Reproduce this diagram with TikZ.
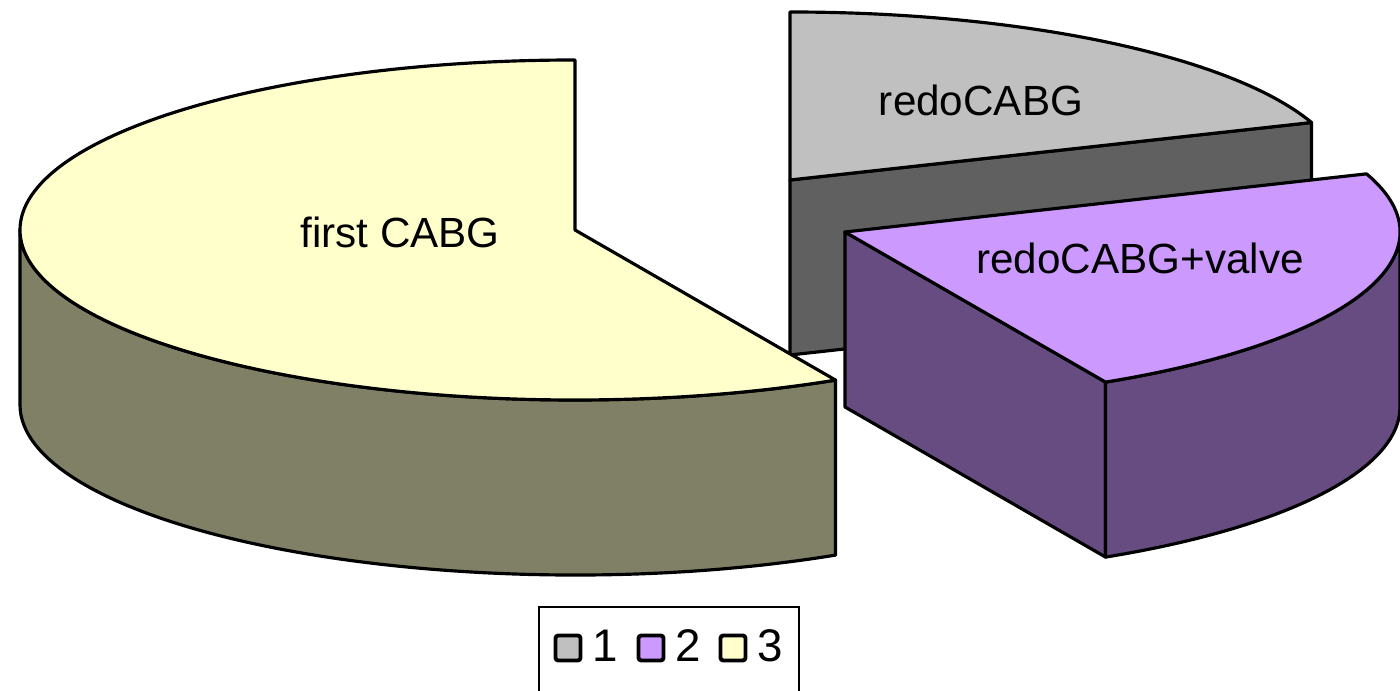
\documentclass[tikz,border=0pt]{standalone}
\usepackage{fontspec}
\setmainfont{Liberation Sans}
\usetikzlibrary{calc}

\definecolor{yeltop}{RGB}{255,255,204}
\definecolor{yelside}{RGB}{128,128,102}
\definecolor{grytop}{RGB}{192,192,192}
\definecolor{gryside}{RGB}{96,96,96}
\definecolor{purtop}{RGB}{204,153,255}
\definecolor{purside}{RGB}{102,76,128}

\tikzset{
  slice/.style={draw=black,line width=0.9pt,line join=round},
  lbl/.style={font=\fontsize{12}{14}\selectfont},
  keybox/.style={draw=black,line width=1.1pt,rounded corners=0.8pt,minimum size=0.25cm,inner sep=0pt},
  keytxt/.style={font=\fontsize{13}{15}\selectfont,inner sep=0pt}
}

\begin{document}
\begin{tikzpicture}[x=0.01cm,y=0.01cm]

    \useasboundingbox (0,0) rectangle (1400,691);

    \coordinate (gc) at (790,511);
    \coordinate (yc) at (575,461);
    \coordinate (pc) at (845,459);

    \draw[slice,fill=gryside] (gc) -- ++(20:555 and 168) -- ++(0,-175) -- ++(200:555 and 168) -- cycle;
    \draw[slice,fill=grytop] (gc) -- ++(0,168) arc[start angle=90,end angle=20,x radius=555,y radius=168] -- cycle;

    \draw[slice,fill=yelside] ($(yc)+(-555,0)$) arc[start angle=180,end angle=298,x radius=555,y radius=170]
        -- ++(0,-175) arc[start angle=298,end angle=180,x radius=555,y radius=170] -- cycle;
    \draw[slice,fill=yeltop] (yc) -- ++(0,170) arc[start angle=90,end angle=298,x radius=555,y radius=170] -- cycle;

    \draw[slice,fill=purside] (pc) -- ++(-62:555 and 170) -- ++(0,-175) -- ++(118:555 and 170) -- cycle;
    \draw[slice,fill=purside] ($(pc)+(-62:555 and 170)$) arc[start angle=-62,end angle=0,x radius=555,y radius=170]
        -- ++(0,-175) arc[start angle=0,end angle=-62,x radius=555,y radius=170] -- cycle;
    \draw[slice,fill=purtop] (pc) -- ++(20:555 and 170) arc[start angle=20,end angle=-62,x radius=555,y radius=170] -- cycle;

    \node[lbl] (first) at (400,459) {first CABG};
    \node[lbl] (redo) at (981,591) {redoCABG};
    \node[lbl] (valve) at (1140,433) {redoCABG+valve};

    \draw[line width=0.5pt] (539,-10) rectangle (799,84);
    \node[keybox,fill=grytop] (k1) at (568,43) {};
    \node[keytxt] (t1) at (605,45) {1};
    \node[keybox,fill=purtop] (k2) at (651,43) {};
    \node[keytxt] (t2) at (688,45) {2};
    \node[keybox,fill=yeltop] (k3) at (733,43) {};
    \node[keytxt] (t3) at (770,45) {3};

\end{tikzpicture}
\end{document}
